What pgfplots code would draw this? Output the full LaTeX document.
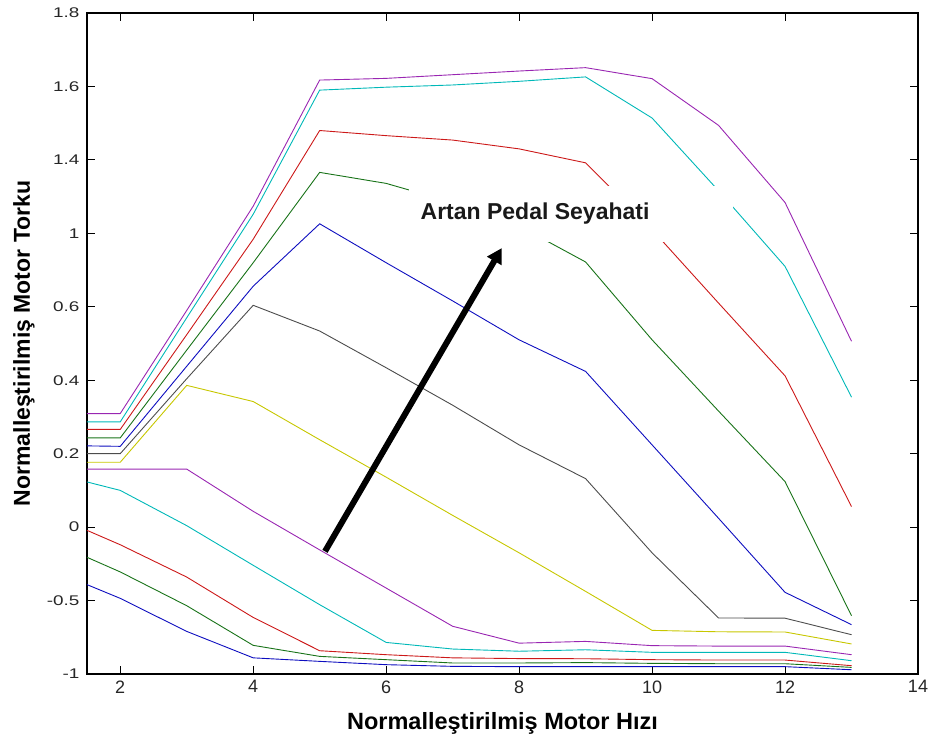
\documentclass[border=0pt]{standalone}
\usepackage{fontspec}
\setmainfont{Liberation Sans}
\usepackage{pgfplots}
\pgfplotsset{compat=1.18}
\usetikzlibrary{arrows.meta}
% MATLAB default line colours (a bit darker, as they render thin)
\definecolor{mB}{rgb}{0.05,0.05,0.75}
\definecolor{mG}{rgb}{0.1,0.45,0.1}
\definecolor{mR}{rgb}{0.8,0.1,0.1}
\definecolor{mC}{rgb}{0,0.72,0.72}
\definecolor{mM}{rgb}{0.6,0.15,0.7}
\definecolor{mY}{rgb}{0.78,0.78,0}
\definecolor{mK}{rgb}{0.3,0.3,0.3}
\pgfplotsset{
  curve/.style={line width=0.9pt},
}
\begin{document}
\begin{tikzpicture}
\useasboundingbox (-87pt,-66pt) rectangle (843pt,674pt);
\begin{axis}[
  scale only axis,
  width=831pt, height=661pt,
  xmin=1.5, xmax=14, ymin=0, ymax=9,
  xtick={2,4,...,14},
  ytick={0,1,...,9},
  yticklabels={\scalebox{1.35}[1]{-1},\scalebox{1.35}[1]{-0.5},\scalebox{1.35}[1]{0},
    \scalebox{1.35}[1]{0.2},\scalebox{1.35}[1]{0.4},\scalebox{1.35}[1]{0.6},
    \scalebox{1.35}[1]{1},\scalebox{1.35}[1]{1.4},\scalebox{1.35}[1]{1.6},\scalebox{1.35}[1]{1.8}},
  /pgf/number format/assume math mode=true,
  tick align=inside,
  major tick length=8pt,
  axis line style={line width=1.2pt},
  every tick/.style={black, line width=1pt},
  xticklabel style={font=\fontsize{18}{18}\selectfont, yshift=-3pt, text=black!85},
  yticklabel style={font=\fontsize{14}{14}\selectfont, xshift=-4pt, text=black!85},
  xlabel={Normalleştirilmiş Motor Hızı},
  ylabel={Normalleştirilmiş Motor Torku},
  xlabel style={font=\bfseries\fontsize{23.5}{26}\selectfont,
    at={(axis description cs:0.5,-0.0832)}, anchor=base},
  ylabel style={font=\bfseries\fontsize{23}{26}\selectfont,
    at={(axis description cs:-0.0686,0.5)}, anchor=base},
]
% y values in tick-index units (tick i carries the i-th label)
\addplot[mB, curve] coordinates {(1.5,1.217) (2,1.03) (3,0.58) (4,0.22) (5,0.172) (6,0.127) (7,0.104) (8,0.10) (9,0.10) (10,0.10) (11,0.10) (12,0.10) (13,0.058)};
\addplot[mG, curve] coordinates {(1.5,1.589) (2,1.39) (3,0.93) (4,0.39) (5,0.24) (6,0.195) (7,0.15) (8,0.15) (9,0.155) (10,0.145) (11,0.14) (12,0.14) (13,0.09)};
\addplot[mR, curve] coordinates {(1.5,1.956) (2,1.76) (3,1.32) (4,0.77) (5,0.317) (6,0.263) (7,0.22) (8,0.21) (9,0.208) (10,0.195) (11,0.19) (12,0.19) (13,0.113)};
\addplot[mC, curve] coordinates {(1.5,2.615) (2,2.50) (3,2.02) (4,1.48) (5,0.944) (6,0.43) (7,0.34) (8,0.31) (9,0.33) (10,0.295) (11,0.295) (12,0.295) (13,0.181)};
\addplot[mM, curve] coordinates {(1.5,2.79) (2,2.79) (3,2.79) (4,2.215) (5,1.69) (6,1.17) (7,0.65) (8,0.42) (9,0.444) (10,0.386) (11,0.38) (12,0.38) (13,0.263)};
\addplot[mY, curve] coordinates {(1.5,2.883) (2,2.883) (3,3.93) (4,3.71) (5,3.19) (6,2.68) (7,2.16) (8,1.65) (9,1.125) (10,0.594) (11,0.575) (12,0.572) (13,0.409)};
\addplot[mK, curve] coordinates {(1.5,3.0) (2,3.0) (3,4.02) (4,5.02) (5,4.67) (6,4.17) (7,3.66) (8,3.12) (9,2.66) (10,1.65) (11,0.763) (12,0.76) (13,0.535)};
\addplot[mB, curve] coordinates {(1.5,3.106) (2,3.10) (3,4.19) (4,5.28) (5,6.13) (6,5.60) (7,5.08) (8,4.55) (9,4.12) (10,3.12) (11,2.12) (12,1.112) (13,0.672)};
\addplot[mG, curve] coordinates {(1.5,3.215) (2,3.215) (3,4.41) (4,5.60) (5,6.83) (6,6.68) (7,6.42) (8,6.10) (9,5.61) (10,4.55) (11,3.58) (12,2.62) (13,0.794)};
\addplot[mR, curve] coordinates {(1.5,3.33) (2,3.33) (3,4.62) (4,5.92) (5,7.40) (6,7.33) (7,7.27) (8,7.15) (9,6.96) (10,6.05) (11,5.05) (12,4.06) (13,2.28)};
\addplot[mC, curve] coordinates {(1.5,3.433) (2,3.433) (3,4.85) (4,6.26) (5,7.95) (6,7.99) (7,8.02) (8,8.07) (9,8.13) (10,7.57) (11,6.58) (12,5.55) (13,3.77)};
\addplot[mM, curve] coordinates {(1.5,3.546) (2,3.546) (3,4.95) (4,6.37) (5,8.087) (6,8.11) (7,8.16) (8,8.21) (9,8.256) (10,8.106) (11,7.47) (12,6.42) (13,4.53)};
% annotation: white backing behind the text, then arrow and text
\fill[white] (axis cs:6.34,5.876) rectangle (axis cs:11.22,6.64);
\draw[line width=6pt, black, -{Triangle[length=15pt,width=16pt]}]
  (axis cs:5.08,1.67) -- (axis cs:7.74,5.80);
\node[font=\bfseries\fontsize{23}{27}\selectfont, text=black!90]
  at (axis cs:8.24,6.27) {Artan Pedal Seyahati};
\end{axis}
\end{tikzpicture}
\end{document}
